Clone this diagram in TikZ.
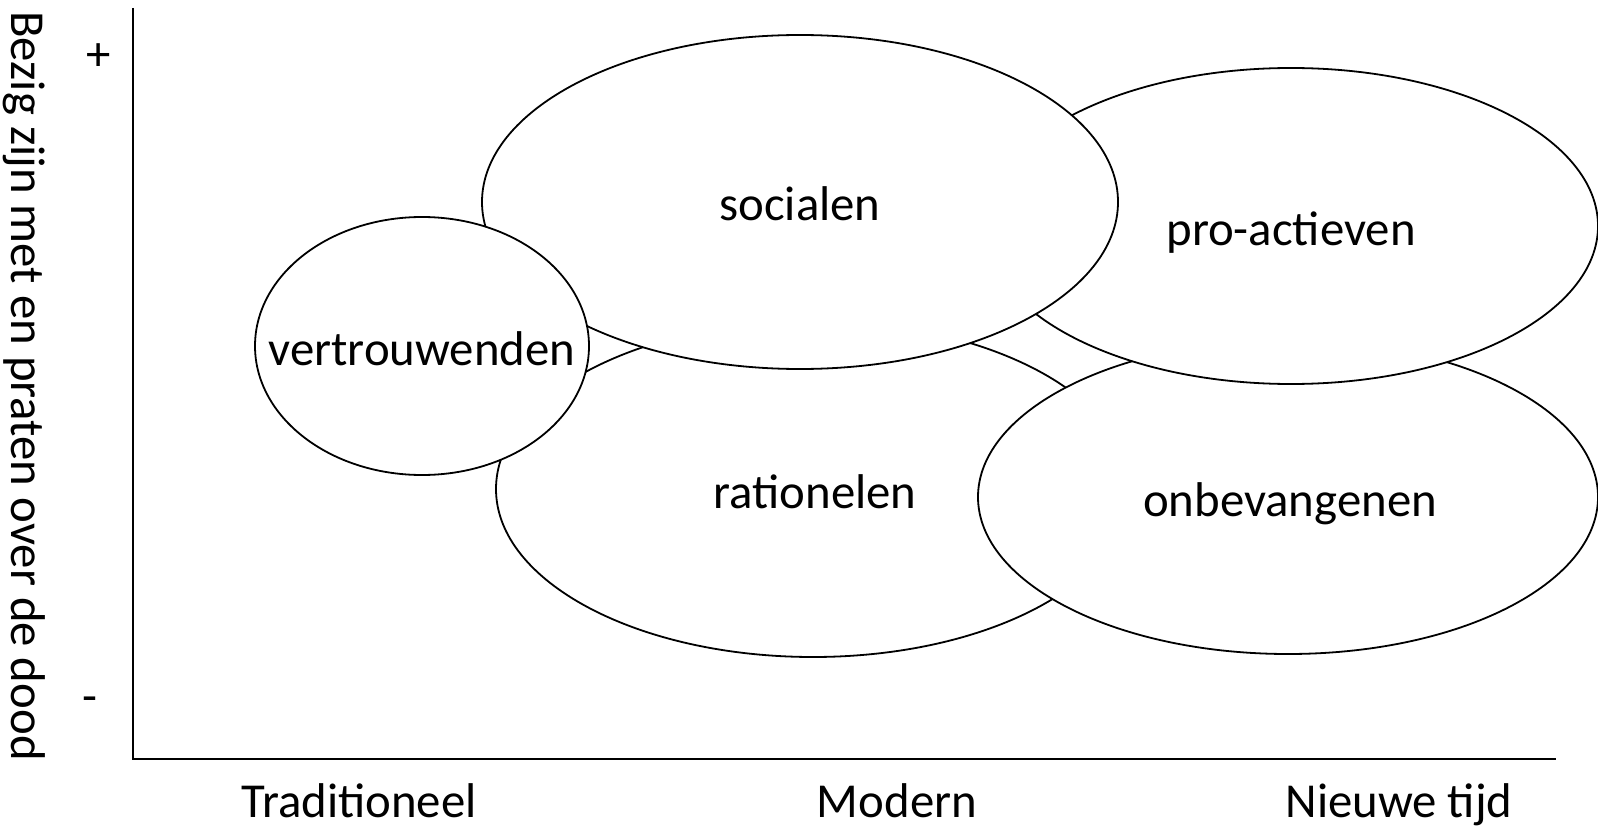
\documentclass[tikz,border=0pt]{standalone}
\usepackage{fontspec}
\setmainfont{Carlito}
\usetikzlibrary{shapes.geometric}
\tikzset{
  lbl/.style={font=\fontsize{48.8}{58}\selectfont, inner sep=0pt},
  blobtext/.style={lbl, anchor=base, yshift=-19pt},
  blob/.style={ellipse, draw=black, fill=white, line width=1.8pt, inner sep=0pt},
  axis/.style={line width=2pt, draw=black}
}
\begin{document}
\begin{tikzpicture}[x=1pt,y=-1pt]
\useasboundingbox (0,0) rectangle (1598,829);
% axes
\coordinate (ytop) at (133,8);
\coordinate (xend) at (1556,759);
\draw[axis] (ytop) |- (xend);
% ellipses (back to front)
\node[blob, minimum width=634pt, minimum height=336pt] (rat) at (813,489) {};
\node[blobtext] (ratT) at ([xshift=2pt]rat.center) {rationelen};
\node[blob, minimum width=620pt, minimum height=314pt] (onb) at (1288,497) {};
\node[blobtext] (onbT) at ([xshift=2pt]onb.center) {onbevangenen};
\node[blob, minimum width=614pt, minimum height=316pt] (pro) at (1291,226) {};
\node[blobtext] (proT) at (pro.center) {pro-actieven};
\node[blob, minimum width=636pt, minimum height=334pt] (soc) at (800,202) {};
\node[blobtext] (socT) at (soc.center) {socialen};
\node[blob, minimum width=334pt, minimum height=258pt] (ver) at (422,346) {};
\node[blobtext] (verT) at (ver.center) {vertrouwenden};
% axis labels
\node[lbl, anchor=base] (trad) at (359,817) {Traditioneel};
\node[lbl, anchor=base] (mod) at (897,817) {Modern};
\node[lbl, anchor=base] (nieuw) at (1399,817) {Nieuwe tijd};
\node[lbl] (plus) at (99,57) {+};
\node[lbl] (minus) at (90,705) {-};
\node[lbl, anchor=base, rotate=-90] (ylab) at (12,386) {Bezig zijn met en praten over de dood};
\end{tikzpicture}
\end{document}
